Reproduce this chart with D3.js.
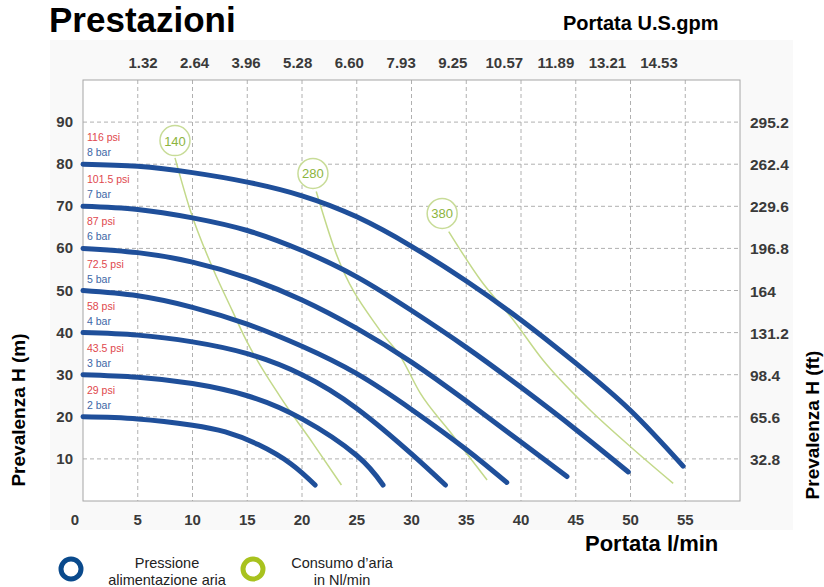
<!DOCTYPE html>
<html>
<head>
<meta charset="utf-8">
<script src="https://cdn.jsdelivr.net/npm/d3@7/dist/d3.min.js"></script>
<style>
body{margin:0;background:#fff;}
svg{display:block;font-family:"Liberation Sans",Arial,sans-serif;}
</style>
</head>
<body>
<svg id="screen" width="824" height="587"></svg>
<script>
// tick labels
var flowTicks=[0,5,10,15,20,25,30,35,40,45,50,55];
var gpmTicks=[1.32,2.64,3.96,5.28,6.60,7.93,9.25,10.57,11.89,13.21,14.53];
var headTicks=[10,20,30,40,50,60,70,80,90];
var ftTicks=["32.8","65.6","98.4","131.2","164","196.8","229.6","262.4","295.2"];

// pressure curves (l/min, m)
var barNames=["2 bar","3 bar","4 bar","5 bar","6 bar","7 bar","8 bar"];
var psiNames=["29 psi","43.5 psi","58 psi","72.5 psi","87 psi","101.5 psi","116 psi"];
var startHead=[20,30,40,50,60,70,80];
var bar2=[[0,20],[5,19.5],[10,18],[13,16.4],[16,13.4],[19,8.8],[21.2,3.8]];
var bar3=[[0,30],[5,29.4],[10,27.9],[15,25],[20,19.5],[25,10.8],[27.4,3.8]];
var bar4=[[0,40],[5,39.4],[10,37.8],[15,35],[20,30],[25,22],[30,11.2],[33.1,3.8]];
var bar5=[[0,50],[5,48.75],[10,46],[15,42],[20,36.75],[25,30.25],[30,21.75],[35,12.25],[38.7,4.4]];
var bar6=[[0,60],[5,59],[10,56.75],[15,53],[20,47.75],[25,41],[30,33],[35,23.75],[40,14],[44.2,5.8]];
var bar7=[[0,70],[5,69.25],[10,67.25],[15,64.25],[20,59.5],[25,53.25],[30,45.25],[35,36.5],[40,27],[45,17],[49.8,6.9]];
var bar8=[[0,80],[5,79.5],[10,78],[15,75.75],[20,72.5],[25,67.5],[30,60.5],[35,52.25],[40,43],[45,32.75],[50,21.5],[54.8,8.3]];

// air consumption lines (Nl/min)
var airNames=["140","280","380"];
var airLabelPos=[[8.4,85.6],[21,77.8],[32.8,68.3]];
var air140=[[8.4,81.5],[9.8,69],[11.9,55],[13.6,45.4],[14.9,38.2],[18,24.8],[21,13.7],[23.6,3.8]];
var air280=[[21.3,73.5],[23,59.6],[27.1,40.6],[29,34.3],[30.8,25.6],[33.5,16.5],[36.9,5]];
var air380=[[33.4,64],[36.3,52.5],[39.3,43],[42,33.5],[46,22.4],[50,12.9],[53.9,4.2]];

var svg=d3.select("#screen");
var x=d3.scaleLinear().domain([0,60]).range([83,740]);
var y=d3.scaleLinear().domain([0,100]).range([501,80]);
var xTop=d3.scaleLinear().domain([1.32,14.53]).range([143,659]);

// light backdrop
svg.append("rect").attr("x",50).attr("y",40).attr("width",743).attr("height",490).attr("fill","#f9f9f9");
svg.append("rect").attr("x",x(0)).attr("y",y(100)).attr("width",x(60)-x(0)).attr("height",y(0)-y(100)).attr("fill","#fff");

// grid
svg.selectAll(".vg").data(flowTicks.slice(1)).enter().append("line")
  .attr("x1",function(d){return x(d);}).attr("x2",function(d){return x(d);})
  .attr("y1",y(100)).attr("y2",y(0))
  .attr("stroke","#b0b0b0").attr("stroke-dasharray","4,3");
svg.selectAll(".hg").data(headTicks).enter().append("line")
  .attr("x1",x(0)).attr("x2",x(60))
  .attr("y1",function(d){return y(d);}).attr("y2",function(d){return y(d);})
  .attr("stroke","#b0b0b0").attr("stroke-dasharray","4,3");
svg.append("rect").attr("x",x(0)).attr("y",y(100)).attr("width",x(60)-x(0)).attr("height",y(0)-y(100))
  .attr("fill","none").attr("stroke","#a6a6a6");

// tick labels
svg.selectAll(".bt").data(flowTicks).enter().append("text")
  .attr("x",function(d){return d==0? x(d)-8 : x(d);}).attr("y",525)
  .attr("text-anchor","middle").attr("font-size",15).attr("font-weight","bold").attr("fill","#3a3a3a")
  .text(function(d){return d;});
svg.selectAll(".tt").data(gpmTicks).enter().append("text")
  .attr("x",function(d){return xTop(d);}).attr("y",68)
  .attr("text-anchor","middle").attr("font-size",15).attr("font-weight","bold").attr("fill","#3a3a3a")
  .text(function(d){return d.toFixed(2);});
svg.selectAll(".lt").data(headTicks).enter().append("text")
  .attr("x",73).attr("y",function(d){return y(d)+5;})
  .attr("text-anchor","end").attr("font-size",15).attr("font-weight","bold").attr("fill","#3a3a3a")
  .text(function(d){return d;});
svg.selectAll(".rt").data(ftTicks).enter().append("text")
  .attr("x",750).attr("y",function(d,i){return y(headTicks[i])+6;})
  .attr("font-size",15.5).attr("font-weight","bold").attr("fill","#3a3a3a")
  .text(function(d){return d;});

// pressure labels
svg.selectAll(".psi").data(psiNames).enter().append("text")
  .attr("x",87).attr("y",function(d,i){return y(startHead[i])-23;})
  .attr("font-size",10.5).attr("fill","#e0484d").text(function(d){return d;});
svg.selectAll(".bar").data(barNames).enter().append("text")
  .attr("x",87).attr("y",function(d,i){return y(startHead[i])-8;})
  .attr("font-size",10.5).attr("fill","#3d66a6").text(function(d){return d;});

var line=d3.line().x(function(d){return x(d[0]);}).y(function(d){return y(d[1]);})
  .curve(d3.curveNatural);

// air consumption lines
svg.selectAll(".air").data([air140,air280,air380]).enter().append("path")
  .attr("d",line.curve(d3.curveMonotoneX)).attr("fill","none").attr("stroke","#c3d98a").attr("stroke-width",1.5);
var tags=svg.selectAll(".tag").data(airLabelPos).enter().append("g")
  .attr("transform",function(d){return "translate("+x(d[0])+","+y(d[1])+")";});
tags.append("circle").attr("r",15).attr("fill","#fff").attr("stroke","#c8dc98").attr("stroke-width",1.5);
tags.append("text").attr("y",5).attr("text-anchor","middle").attr("font-size",13)
  .attr("fill","#8cb43e").text(function(d,i){return airNames[i];});

// pressure curves
line.curve(d3.curveNatural);
svg.selectAll(".pc").data([bar2,bar3,bar4,bar5,bar6,bar7,bar8]).enter().append("path")
  .attr("d",line).attr("fill","none").attr("stroke","#1f4f9a").attr("stroke-width",5)
  .attr("stroke-linecap","round");

// titles
svg.append("text").attr("x",49).attr("y",32).attr("font-size",35).attr("font-weight","bold")
  .attr("fill","#000").text("Prestazioni");
svg.append("text").attr("x",563).attr("y",30).attr("font-size",20).attr("font-weight","bold")
  .attr("fill","#000").text("Portata U.S.gpm");
svg.append("text").attr("x",585).attr("y",551).attr("font-size",22).attr("font-weight","bold")
  .attr("fill","#000").text("Portata l/min");
svg.append("text").attr("transform","translate(25,410) rotate(-90)").attr("text-anchor","middle")
  .attr("font-size",19).attr("font-weight","bold").attr("fill","#000").text("Prevalenza H (m)");
svg.append("text").attr("transform","translate(819,425) rotate(-90)").attr("text-anchor","middle")
  .attr("font-size",19).attr("font-weight","bold").attr("fill","#000").text("Prevalenza H (ft)");

// legend
var legendItems=[["#0a4a8c",["Pressione","alimentazione aria"],71,167],["#a8c21e",["Consumo d\u2019aria","in Nl/min"],253,342]];
legendItems.forEach(function(l){
  svg.append("circle").attr("cx",l[2]).attr("cy",569).attr("r",10).attr("fill","none")
    .attr("stroke",l[0]).attr("stroke-width",5);
  svg.selectAll(null).data(l[1]).enter().append("text")
    .attr("x",l[3]).attr("y",function(d,i){return 568+i*17;})
    .attr("text-anchor","middle").attr("font-size",14.5).attr("fill","#222").text(function(d){return d;});
});
</script>
</body>
</html>
